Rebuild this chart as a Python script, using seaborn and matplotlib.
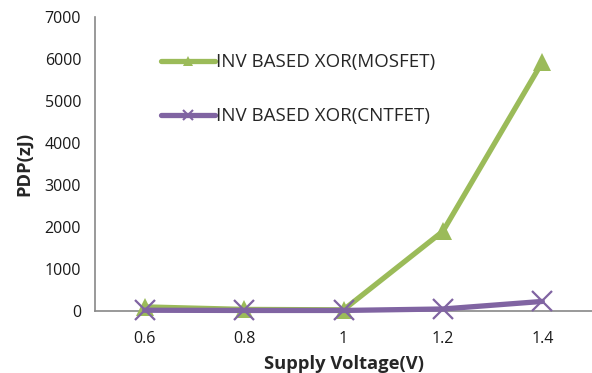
import matplotlib
matplotlib.use("Agg")
import matplotlib.pyplot as plt
import seaborn as sns
import pandas as pd
from matplotlib.lines import Line2D

voltages = ["0.6", "0.8", "1", "1.2", "1.4"]
mosfet = [100, 40, 30, 1900, 5930]
cntfet = [20, 15, 15, 50, 230]
series_names = ["INV BASED XOR(MOSFET)", "INV BASED XOR(CNTFET)"]
colors = ["#9BBB59", "#8064A2"]
y_ticks = [0, 1000, 2000, 3000, 4000, 5000, 6000, 7000]

df_m = pd.DataFrame({"Voltage": voltages, "PDP": mosfet})
df_c = pd.DataFrame({"Voltage": voltages, "PDP": cntfet})

sns.set_style("white")
plt.rcParams["font.family"] = ["Open Sans", "DejaVu Sans"]

fig = plt.figure(figsize=(5.92, 3.73), dpi=100)
ax = fig.add_axes([0.1605, 0.166, 0.8395, 0.788])

sns.lineplot(data=df_m, x="Voltage", y="PDP", color=colors[0], marker="^",
             linewidth=3.8, markersize=13, markeredgewidth=0, ax=ax,
             clip_on=False, zorder=3)
sns.lineplot(data=df_c, x="Voltage", y="PDP", color=colors[1], marker="x",
             linewidth=3.8, markersize=14, markeredgewidth=1.6,
             markeredgecolor=colors[1], ax=ax, clip_on=False, zorder=4)

ax.set_xlim(-0.5, 4.47)
ax.set_ylim(0, 7000)
ax.set_yticks(y_ticks)
ax.set_yticklabels([str(v) for v in y_ticks], fontsize=11.5, color="#1a1a1a")
ax.set_xticks(range(len(voltages)))
ax.set_xticklabels(voltages, fontsize=11.5, color="#1a1a1a")
ax.tick_params(axis="x", length=0, pad=14)
ax.set_xticks([i - 0.5 for i in range(len(voltages) + 1)], minor=True)
ax.tick_params(axis="x", which="minor", length=5, color="#888888", direction="out", width=1)
ax.tick_params(axis="y", length=5, color="#888888", direction="out", width=1, pad=5)

for s in ["top", "right"]:
    ax.spines[s].set_visible(False)
for s in ["left", "bottom"]:
    ax.spines[s].set_color("#888888")
    ax.spines[s].set_linewidth(1.2)
    ax.spines[s].set_zorder(1)

ax.set_xlabel("Supply Voltage(V)", fontsize=13.2, fontweight="bold", labelpad=6)
ax.set_ylabel("PDP(zJ)", fontsize=13.2, fontweight="bold", labelpad=8)

handles = [
    Line2D([], [], color=colors[0], linewidth=3.8, marker="^", markersize=7, markeredgewidth=0),
    Line2D([], [], color=colors[1], linewidth=3.8, marker="x", markersize=7, markeredgewidth=1.5),
]
ax.legend(handles, series_names, loc="upper left", bbox_to_anchor=(0.099, 0.935),
          frameon=False, fontsize=13.5, handlelength=2.9, handletextpad=0.05,
          labelspacing=1.93)

fig.savefig("out.png", dpi=100)
